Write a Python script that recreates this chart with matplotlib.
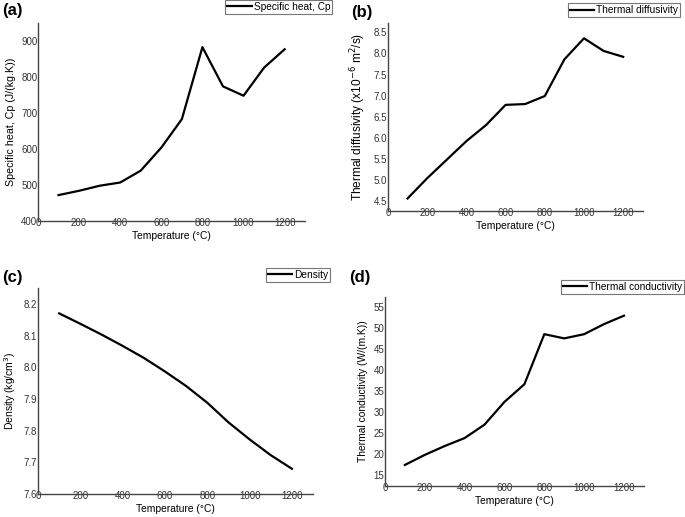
import matplotlib
matplotlib.use("Agg")
import matplotlib.pyplot as plt

# valeurs
temperature = [100, 200, 300, 400, 500, 600, 700, 800, 900, 1000, 1100, 1200]
specific_heat = [472, 484, 498, 507, 540, 604, 683, 883, 774, 748, 826, 877]
diffusivity = [4.56, 5.04, 5.48, 5.92, 6.30, 6.78, 6.80, 6.99, 7.86, 8.36, 8.06, 7.92]
density = [8.171, 8.138, 8.104, 8.068, 8.030, 7.987, 7.941, 7.888, 7.826, 7.772, 7.722, 7.679]
conductivity = [17.5, 19.9, 22.0, 23.9, 27.1, 32.5, 36.7, 48.6, 47.6, 48.6, 51.0, 53.0]

xticks = [0, 200, 400, 600, 800, 1000, 1200]

plt.rcParams['font.family'] = ['Liberation Sans', 'DejaVu Sans']

fig = plt.figure(figsize=(6.85, 5.17), dpi=100)

panels = [
    # (position, données, yticks, ylim, ylabel, taille ylabel, legende, lettre, pos lettre, pos legende)
    ([0.0555, 0.5725, 0.390, 0.383], specific_heat, [400, 500, 600, 700, 800, 900], (400, 950),
     "Specific heat, Cp (J/(kg.K))", 7.7, "Specific heat, Cp", "(a)", (0.003, 0.995), (0.485, 1.0)),
    ([0.5664, 0.5925, 0.372, 0.3636], diffusivity, [4.5, 5.0, 5.5, 6.0, 6.5, 7.0, 7.5, 8.0, 8.5], (4.27, 8.73),
     r"Thermal diffusivity (x10$^{-6}$ m$^2$/s)", 8.6, "Thermal diffusivity", "(b)", (0.512, 0.99), (0.993, 0.994)),
    ([0.0555, 0.0451, 0.4015, 0.397], density, [7.6, 7.7, 7.8, 7.9, 8.0, 8.1, 8.2], (7.6, 8.25),
     "Density (kg/cm$^3$)", 7.5, "Density", "(c)", (0.003, 0.478), (0.482, 0.482)),
    ([0.562, 0.060, 0.378, 0.366], conductivity, [15, 20, 25, 30, 35, 40, 45, 50, 55], (12.5, 57.5),
     "Thermal conductivity (W/(m.K))", 7.4, "Thermal conductivity", "(d)", (0.51, 0.478), (0.999, 0.459)),
]

for pos, values, yticks, ylim, ylabel, ysize, leg, letter, letter_pos, leg_pos in panels:
    ax = fig.add_axes(pos)
    ax.plot(temperature, values, color="black", linewidth=1.6, label=leg)
    ax.set_xlim(0, 1300)
    ax.set_ylim(*ylim)
    ax.set_xticks(xticks)
    ax.set_yticks(yticks)
    if values is diffusivity or values is density:
        ax.set_yticklabels([f"{v:.1f}" for v in yticks])
    ax.spines['top'].set_visible(False)
    ax.spines['right'].set_visible(False)
    for s in ['left', 'bottom']:
        ax.spines[s].set_color("#444444")
        ax.spines[s].set_linewidth(1.0)
    ax.tick_params(length=0, labelsize=7, colors="#333333")
    ax.tick_params(axis='x', pad=-2)
    ax.tick_params(axis='y', pad=0.5)
    ax.set_xlabel("Temperature (°C)", fontsize=7.4, labelpad=2)
    ax.set_ylabel(ylabel, fontsize=ysize, labelpad=4)
    fig.text(letter_pos[0], letter_pos[1], letter, fontsize=12, fontweight="bold", va="top", ha="left")
    lg = ax.legend(loc="upper right", bbox_to_anchor=leg_pos, bbox_transform=fig.transFigure,
                   fontsize=7.3, frameon=True, fancybox=False, handlelength=2.4,
                   borderpad=0.2, handletextpad=0.2, borderaxespad=0)
    lg.get_frame().set_edgecolor("#555555")
    lg.get_frame().set_linewidth(0.8)

fig.savefig("out.png", dpi=100)
